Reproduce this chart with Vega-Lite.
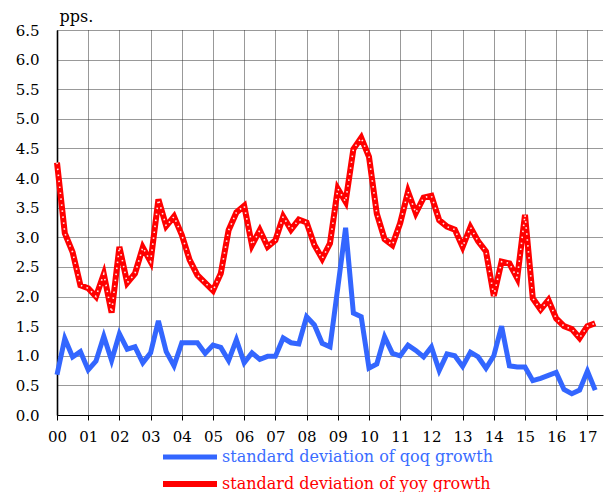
{
  "$schema": "https://vega.github.io/schema/vega-lite/v6.json",
  "width": 546,
  "height": 385,
  "autosize": {"type": "none"},
  "padding": {"left": 57, "top": 30, "right": 8, "bottom": 77},
  "background": "white",
  "config": {
    "view": {"stroke": null},
    "font": "DejaVu Serif"
  },
  "data": {
    "values": [
      {"t": 2000.00, "qoq": 0.68, "yoy": 4.26},
      {"t": 2000.25, "qoq": 1.29, "yoy": 3.07},
      {"t": 2000.50, "qoq": 0.98, "yoy": 2.75},
      {"t": 2000.75, "qoq": 1.07, "yoy": 2.19},
      {"t": 2001.00, "qoq": 0.76, "yoy": 2.14},
      {"t": 2001.25, "qoq": 0.91, "yoy": 2.00},
      {"t": 2001.50, "qoq": 1.33, "yoy": 2.38},
      {"t": 2001.75, "qoq": 0.92, "yoy": 1.73},
      {"t": 2002.00, "qoq": 1.37, "yoy": 2.84},
      {"t": 2002.25, "qoq": 1.11, "yoy": 2.23},
      {"t": 2002.50, "qoq": 1.15, "yoy": 2.39},
      {"t": 2002.75, "qoq": 0.88, "yoy": 2.83},
      {"t": 2003.00, "qoq": 1.05, "yoy": 2.59},
      {"t": 2003.25, "qoq": 1.59, "yoy": 3.64},
      {"t": 2003.50, "qoq": 1.07, "yoy": 3.19},
      {"t": 2003.75, "qoq": 0.83, "yoy": 3.35},
      {"t": 2004.00, "qoq": 1.22, "yoy": 3.04},
      {"t": 2004.25, "qoq": 1.22, "yoy": 2.62},
      {"t": 2004.50, "qoq": 1.22, "yoy": 2.36},
      {"t": 2004.75, "qoq": 1.04, "yoy": 2.23},
      {"t": 2005.00, "qoq": 1.18, "yoy": 2.10},
      {"t": 2005.25, "qoq": 1.14, "yoy": 2.39},
      {"t": 2005.50, "qoq": 0.92, "yoy": 3.12},
      {"t": 2005.75, "qoq": 1.27, "yoy": 3.42},
      {"t": 2006.00, "qoq": 0.88, "yoy": 3.53},
      {"t": 2006.25, "qoq": 1.05, "yoy": 2.87},
      {"t": 2006.50, "qoq": 0.94, "yoy": 3.12},
      {"t": 2006.75, "qoq": 0.99, "yoy": 2.84},
      {"t": 2007.00, "qoq": 0.99, "yoy": 2.95},
      {"t": 2007.25, "qoq": 1.30, "yoy": 3.35},
      {"t": 2007.50, "qoq": 1.22, "yoy": 3.13},
      {"t": 2007.75, "qoq": 1.20, "yoy": 3.30},
      {"t": 2008.00, "qoq": 1.66, "yoy": 3.25},
      {"t": 2008.25, "qoq": 1.52, "yoy": 2.87},
      {"t": 2008.50, "qoq": 1.21, "yoy": 2.64},
      {"t": 2008.75, "qoq": 1.15, "yoy": 2.90},
      {"t": 2009.00, "qoq": 2.15, "yoy": 3.82},
      {"t": 2009.25, "qoq": 3.16, "yoy": 3.60},
      {"t": 2009.50, "qoq": 1.72, "yoy": 4.49},
      {"t": 2009.75, "qoq": 1.66, "yoy": 4.68},
      {"t": 2010.00, "qoq": 0.79, "yoy": 4.36},
      {"t": 2010.25, "qoq": 0.86, "yoy": 3.40},
      {"t": 2010.50, "qoq": 1.32, "yoy": 2.97},
      {"t": 2010.75, "qoq": 1.04, "yoy": 2.87},
      {"t": 2011.00, "qoq": 1.00, "yoy": 3.24},
      {"t": 2011.25, "qoq": 1.18, "yoy": 3.77},
      {"t": 2011.50, "qoq": 1.09, "yoy": 3.41},
      {"t": 2011.75, "qoq": 0.98, "yoy": 3.67},
      {"t": 2012.00, "qoq": 1.15, "yoy": 3.70},
      {"t": 2012.25, "qoq": 0.75, "yoy": 3.29},
      {"t": 2012.50, "qoq": 1.03, "yoy": 3.18},
      {"t": 2012.75, "qoq": 1.00, "yoy": 3.13},
      {"t": 2013.00, "qoq": 0.82, "yoy": 2.84},
      {"t": 2013.25, "qoq": 1.06, "yoy": 3.17},
      {"t": 2013.50, "qoq": 0.98, "yoy": 2.93},
      {"t": 2013.75, "qoq": 0.79, "yoy": 2.76},
      {"t": 2014.00, "qoq": 1.00, "yoy": 2.01},
      {"t": 2014.25, "qoq": 1.50, "yoy": 2.59},
      {"t": 2014.50, "qoq": 0.83, "yoy": 2.56},
      {"t": 2014.75, "qoq": 0.81, "yoy": 2.31},
      {"t": 2015.00, "qoq": 0.81, "yoy": 3.38},
      {"t": 2015.25, "qoq": 0.58, "yoy": 1.97},
      {"t": 2015.50, "qoq": 0.62, "yoy": 1.78},
      {"t": 2015.75, "qoq": 0.67, "yoy": 1.94},
      {"t": 2016.00, "qoq": 0.72, "yoy": 1.63},
      {"t": 2016.25, "qoq": 0.43, "yoy": 1.50},
      {"t": 2016.50, "qoq": 0.36, "yoy": 1.45},
      {"t": 2016.75, "qoq": 0.42, "yoy": 1.30},
      {"t": 2017.00, "qoq": 0.74, "yoy": 1.50},
      {"t": 2017.25, "qoq": 0.42, "yoy": 1.55}
    ]
  },
  "transform": [{"fold": ["qoq", "yoy"], "as": ["series", "v"]}],
  "encoding": {
    "x": {
      "field": "t",
      "type": "quantitative",
      "scale": {"domain": [2000, 2017.5], "nice": false, "zero": false},
      "axis": {
        "values": [2000, 2001, 2002, 2003, 2004, 2005, 2006, 2007, 2008, 2009, 2010, 2011, 2012, 2013, 2014, 2015, 2016, 2017],
        "labelExpr": "slice(format(datum.value, 'd'), 2)",
        "title": null,
        "grid": true,
        "gridColor": "#333",
        "gridDash": [1, 1],
        "gridWidth": 1,
        "tickSize": 5,
        "tickColor": "#000",
        "domainColor": "#000",
        "domainWidth": 1.2,
        "labelFont": "DejaVu Serif",
        "labelColor": "#000",
        "labelFontSize": 15,
        "labelPadding": 9,
        "labelFlush": false,
        "labelOverlap": false
      }
    },
    "y": {
      "field": "v",
      "type": "quantitative",
      "scale": {"domain": [0, 6.5], "nice": false},
      "axis": {
        "values": [0, 0.5, 1, 1.5, 2, 2.5, 3, 3.5, 4, 4.5, 5, 5.5, 6, 6.5],
        "format": ".1f",
        "title": "pps.",
        "titleFont": "DejaVu Serif",
        "titleColor": "#000",
        "titleAngle": 0,
        "titleX": 2,
        "titleY": -9,
        "titleAlign": "left",
        "titleBaseline": "alphabetic",
        "titleFontWeight": "normal",
        "titleFontSize": 16,
        "ticks": false,
        "labelPadding": 18,
        "labelFont": "DejaVu Serif",
        "labelColor": "#000",
        "labelFontSize": 15,
        "grid": true,
        "gridColor": "#333",
        "gridDash": [1, 1],
        "gridWidth": 1,
        "domainColor": "#000",
        "domainWidth": 1.6,
        "labelOverlap": false
      }
    }
  },
  "layer": [
    {
      "mark": {"type": "line", "strokeJoin": "miter"},
      "encoding": {
        "color": {
          "field": "series",
          "type": "nominal",
          "scale": {"domain": ["qoq", "yoy"], "range": ["#3366ff", "#ff0000"]},
          "legend": {
            "orient": "none",
            "legendX": 103,
            "legendY": 415,
            "title": null,
            "direction": "vertical",
            "padding": 0,
            "offset": 0,
            "symbolType": "stroke",
            "symbolSize": 2916,
            "symbolStrokeWidth": 5,
            "clipHeight": 24,
            "rowPadding": 3,
            "labelOffset": 2,
            "labelFont": "DejaVu Serif",
            "labelFontSize": 16,
            "labelLimit": 500,
            "labelExpr": "'standard deviation of ' + datum.label + ' growth'",
            "encode": {
              "labels": {"update": {"fill": {"signal": "datum.value === 'qoq' ? '#3a6cff' : '#ff0000'"}}}
            }
          }
        },
        "strokeWidth": {
          "field": "series",
          "type": "nominal",
          "scale": {"domain": ["qoq", "yoy"], "range": [5, 6]},
          "legend": null
        }
      }
    },
    {
      "transform": [{"filter": "datum.series === 'yoy'"}],
      "mark": {"type": "line", "stroke": "#ffeaea", "strokeWidth": 1.6, "strokeDash": [1.5, 4.5], "strokeCap": "butt", "strokeJoin": "miter"},
      "encoding": {}
    }
  ]
}
